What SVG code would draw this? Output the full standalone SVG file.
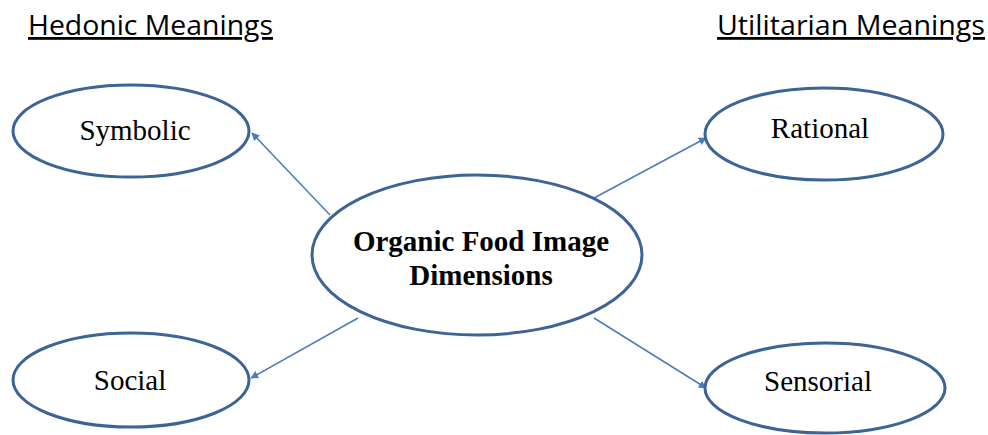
<svg xmlns="http://www.w3.org/2000/svg" width="988" height="435" viewBox="0 0 988 435">
<style>
.node ellipse{fill:#fff;stroke:#3c6496;stroke-width:3}
.lbl{font-family:"Liberation Serif","Times New Roman",serif;font-size:29px;fill:#000;text-anchor:middle}
.ctr{font-family:"Liberation Serif","Times New Roman",serif;font-size:29px;font-weight:bold;fill:#000;text-anchor:middle}
.hdr{font-family:"Open Sans","Liberation Sans",sans-serif;font-size:28px;fill:#000;text-decoration:underline}
.conn line{stroke:#4a7ebb;stroke-width:1.5;marker-end:url(#ah)}
</style>
<defs>
<marker id="ah" viewBox="0 0 10 10" refX="9" refY="5" markerWidth="8" markerHeight="8" markerUnits="userSpaceOnUse" orient="auto"><path d="M0,0L10,5L0,10z" fill="#4a7ebb"/></marker>
</defs>
<rect width="988" height="435" fill="#fff"/>
<text class="hdr" x="28" y="35" textLength="245" lengthAdjust="spacingAndGlyphs">Hedonic Meanings</text>
<text class="hdr" x="717" y="35" textLength="268" lengthAdjust="spacingAndGlyphs">Utilitarian Meanings</text>
<g class="conn">
<line x1="330" y1="215" x2="252" y2="133"/>
<line x1="358" y1="318" x2="251" y2="378"/>
<line x1="594" y1="198" x2="706" y2="138"/>
<line x1="594" y1="318" x2="706" y2="388"/>
</g>
<g id="symbolic" class="node"><ellipse cx="131" cy="131" rx="118" ry="46"/><text class="lbl" x="135" y="140">Symbolic</text></g>
<g id="social" class="node"><ellipse cx="131" cy="380" rx="118" ry="47"/><text class="lbl" x="130" y="390">Social</text></g>
<g id="rational" class="node"><ellipse cx="824" cy="134" rx="119" ry="46"/><text class="lbl" x="820" y="138">Rational</text></g>
<g id="sensorial" class="node"><ellipse cx="825" cy="388" rx="120" ry="45"/><text class="lbl" x="818" y="391">Sensorial</text></g>
<g id="center" class="node"><ellipse cx="477" cy="255" rx="165" ry="80"/><text class="ctr" x="481" y="251">Organic Food Image</text><text class="ctr" x="481" y="285">Dimensions</text></g>
</svg>
